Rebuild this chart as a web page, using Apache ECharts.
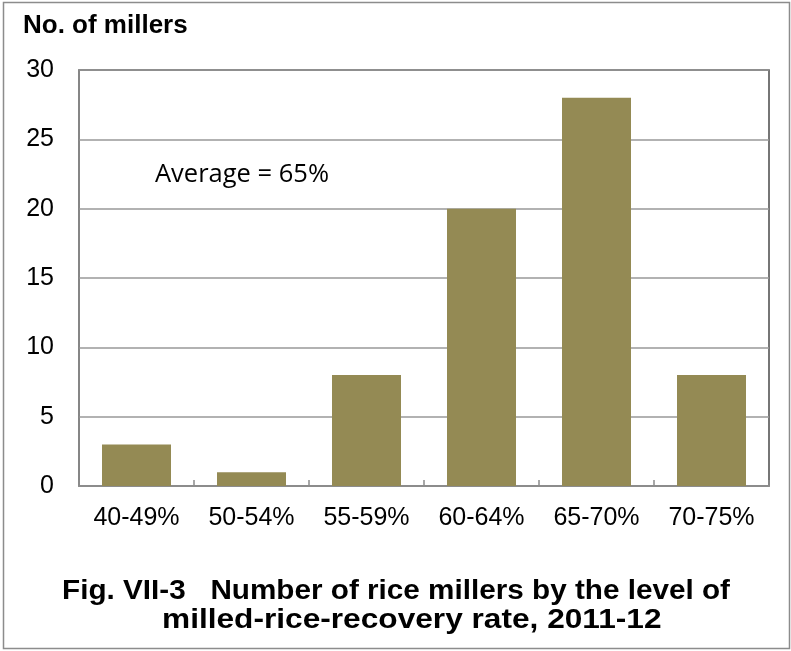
<!DOCTYPE html>
<html>
<head>
<meta charset="utf-8">
<script src="https://cdn.jsdelivr.net/npm/echarts@6/dist/echarts.min.js"></script>
<style>
  html, body { margin: 0; padding: 0; background: #fff; }
  #chart { width: 791px; height: 651px; }
</style>
</head>
<body>
<div id="chart"></div>
<script>
// Milled-rice-recovery rate bands and number of millers in each
const categories = ['40-49%', '50-54%', '55-59%', '60-64%', '65-70%', '70-75%'];
const millerCounts = [3, 1, 8, 20, 28, 8];
const yTicks = { min: 0, max: 30, interval: 5 };

const chart = echarts.init(document.getElementById('chart'));
chart.setOption({
  animation: false,
  backgroundColor: '#fff',
  grid: {
    left: 79, right: 22, top: 70, bottom: 165,
    show: true, borderColor: '#4a4a4a', borderWidth: 1.5, backgroundColor: 'transparent'
  },
  xAxis: {
    type: 'category',
    data: categories,
    axisLine: { lineStyle: { color: '#8c8c8c', width: 1.5 } },
    axisTick: { show: true, inside: true, length: 6, lineStyle: { color: '#8c8c8c', width: 1.5 } },
    axisLabel: { color: '#000', fontFamily: 'Liberation Sans, Arial', fontSize: 25, margin: 20,
                 interval: 0, hideOverlap: false }
  },
  yAxis: {
    type: 'value',
    min: yTicks.min, max: yTicks.max, interval: yTicks.interval,
    axisLine: { show: true, lineStyle: { color: '#8c8c8c', width: 1.5 } },
    axisTick: { show: false },
    splitLine: { lineStyle: { color: '#999', width: 1.5 } },
    axisLabel: { color: '#000', fontFamily: 'Liberation Sans, Arial', fontSize: 25, margin: 25 }
  },
  series: [{
    type: 'bar',
    data: millerCounts,
    barWidth: '60%',
    itemStyle: { color: '#948a54' }
  }],
  graphic: [
    { type: 'rect', shape: { x: 3.5, y: 2.5, width: 786, height: 646 },
      style: { fill: 'none', stroke: '#8c8c8c', lineWidth: 1.5 }, silent: true },
    { type: 'text', x: 23, y: 26,
      style: { text: 'No. of millers', fill: '#000', verticalAlign: 'middle',
               font: 'bold 26px "Liberation Sans", Arial' } },
    { type: 'text', x: 155, y: 175,
      style: { text: 'Average = 65%', fill: '#000', verticalAlign: 'middle',
               font: '25.5px "Open Sans", sans-serif' } },
    { type: 'text', x: 62, y: 591, scaleX: 1.06,
      style: { text: 'Fig. VII-3   Number of rice millers by the level of', fill: '#000',
               verticalAlign: 'middle', font: 'bold 28px "Liberation Sans", Arial' } },
    { type: 'text', x: 162, y: 620, scaleX: 1.13,
      style: { text: 'milled-rice-recovery rate, 2011-12', fill: '#000',
               verticalAlign: 'middle', font: 'bold 28px "Liberation Sans", Arial' } }
  ]
});
</script>
</body>
</html>
